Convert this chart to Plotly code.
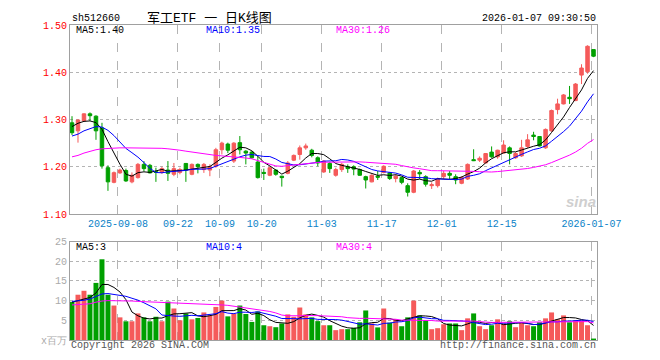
import plotly.graph_objects as go

# ---------------- data ----------------
opens = [1.293, 1.276, 1.297, 1.312, 1.307, 1.282, 1.198, 1.167, 1.187, 1.192,
         1.168, 1.177, 1.205, 1.203, 1.190, 1.188, 1.193, 1.184, 1.188, 1.207,
         1.184, 1.205, 1.194, 1.193, 1.201, 1.236, 1.248, 1.212, 1.251, 1.233,
         1.231, 1.210, 1.188, 1.182, 1.193, 1.180, 1.186, 1.214, 1.226, 1.240,
         1.235, 1.219, 1.189, 1.207, 1.182, 1.194, 1.200, 1.200, 1.194, 1.179,
         1.168, 1.180, 1.188, 1.187, 1.175, 1.177, 1.160, 1.146, 1.188, 1.179,
         1.160, 1.160, 1.179, 1.186, 1.179, 1.165, 1.174, 1.215, 1.214, 1.208,
         1.231, 1.221, 1.229, 1.240, 1.219, 1.223, 1.243, 1.267, 1.264, 1.240,
         1.276, 1.321, 1.333, 1.347, 1.340, 1.394, 1.401, 1.448]
highs = [1.307, 1.300, 1.313, 1.315, 1.309, 1.293, 1.203, 1.190, 1.196, 1.196,
         1.188, 1.208, 1.212, 1.206, 1.198, 1.200, 1.212, 1.208, 1.198, 1.208,
         1.207, 1.207, 1.208, 1.205, 1.240, 1.253, 1.251, 1.252, 1.265, 1.235,
         1.233, 1.222, 1.196, 1.200, 1.194, 1.181, 1.212, 1.226, 1.245, 1.249,
         1.238, 1.222, 1.214, 1.210, 1.198, 1.208, 1.205, 1.203, 1.196, 1.181,
         1.184, 1.191, 1.203, 1.189, 1.184, 1.179, 1.165, 1.193, 1.193, 1.182,
         1.167, 1.177, 1.191, 1.191, 1.184, 1.180, 1.207, 1.237, 1.222, 1.229,
         1.243, 1.236, 1.256, 1.243, 1.231, 1.257, 1.269, 1.274, 1.265, 1.281,
         1.321, 1.344, 1.354, 1.371, 1.377, 1.417, 1.457, 1.448]
lows = [1.267, 1.251, 1.296, 1.297, 1.257, 1.196, 1.149, 1.165, 1.185, 1.168,
        1.165, 1.175, 1.190, 1.186, 1.168, 1.185, 1.170, 1.180, 1.184, 1.168,
        1.182, 1.186, 1.187, 1.180, 1.198, 1.226, 1.229, 1.208, 1.226, 1.205,
        1.217, 1.175, 1.172, 1.180, 1.181, 1.158, 1.184, 1.212, 1.215, 1.236,
        1.220, 1.201, 1.187, 1.187, 1.179, 1.189, 1.187, 1.182, 1.181, 1.154,
        1.167, 1.172, 1.186, 1.172, 1.167, 1.163, 1.137, 1.144, 1.174, 1.158,
        1.153, 1.156, 1.174, 1.174, 1.163, 1.163, 1.172, 1.212, 1.210, 1.207,
        1.219, 1.217, 1.228, 1.205, 1.217, 1.221, 1.240, 1.256, 1.243, 1.238,
        1.274, 1.311, 1.332, 1.333, 1.339, 1.375, 1.397, 1.432]
closes = [1.272, 1.299, 1.312, 1.308, 1.276, 1.202, 1.168, 1.1875, 1.193, 1.170,
          1.182, 1.205, 1.196, 1.187, 1.188, 1.196, 1.186, 1.196, 1.194, 1.193,
          1.205, 1.200, 1.205, 1.200, 1.236, 1.250, 1.235, 1.250, 1.236, 1.229,
          1.219, 1.177, 1.186, 1.198, 1.184, 1.177, 1.208, 1.224, 1.240, 1.244,
          1.224, 1.208, 1.212, 1.196, 1.194, 1.205, 1.196, 1.195, 1.182, 1.172,
          1.182, 1.178, 1.201, 1.175, 1.180, 1.167, 1.146, 1.191, 1.185, 1.163,
          1.162, 1.174, 1.186, 1.182, 1.172, 1.177, 1.205, 1.213, 1.218, 1.228,
          1.221, 1.235, 1.246, 1.228, 1.228, 1.240, 1.257, 1.264, 1.244, 1.279,
          1.319, 1.333, 1.352, 1.344, 1.375, 1.409, 1.455, 1.434]
volumes = [9.7, 11.5, 12.5, 11.5, 14.5, 20.5, 11.5, 8.75, 5.75, 4.75,
           4.75, 6.75, 5.75, 4.75, 5.9, 4.75, 9.75, 8.0, 5.0, 6.75,
           5.25, 5.6, 7.0, 6.25, 8.4, 10.0, 6.0, 6.7, 8.75, 6.6,
           4.6, 7.25, 3.75, 3.5, 3.25, 4.2, 6.5, 5.9, 8.25, 6.5,
           5.75, 4.8, 3.75, 3.75, 2.5, 2.75, 2.75, 3.1, 4.5, 7.5,
           4.2, 3.2, 8.0, 4.4, 5.25, 3.5, 5.75, 10.0, 6.25, 5.0,
           2.75, 3.0, 4.0, 4.2, 4.2, 2.5, 5.5, 6.75, 3.5, 2.75,
           3.75, 5.25, 4.2, 4.75, 3.25, 4.5, 3.75, 3.5, 4.5, 5.5,
           7.0, 5.25, 6.25, 4.5, 5.0, 5.0, 3.75, 0.25]

# moving-average values at the left edge (window starts before the visible data)
price_ma5_head = [1.285, 1.292, 1.296, 1.297]
price_ma10_head = [1.265, 1.269, 1.276, 1.281, 1.285, 1.284, 1.277, 1.266, 1.252]
price_ma30_head = [1.221, 1.224, 1.229, 1.233, 1.236, 1.238, 1.239, 1.240, 1.240, 1.240,
                   1.240, 1.240, 1.240, 1.240, 1.240, 1.239, 1.238, 1.237, 1.235, 1.233,
                   1.231, 1.229, 1.227, 1.226, 1.224, 1.223, 1.222, 1.222, 1.221]
vol_ma5_head = [9.6, 10.0, 10.4, 10.8]
vol_ma10_head = [9.8, 9.9, 10.1, 10.4, 11.0, 11.7, 11.8, 11.6, 11.3]
vol_ma30_head = [8.9, 8.95, 9.0, 9.2, 9.6, 9.9, 10.0, 10.0, 10.0, 10.0,
                 9.9, 9.8, 9.75, 9.7, 9.6, 9.55, 9.5, 9.45, 9.4, 9.3,
                 9.25, 9.2, 9.1, 9.05, 9.0, 8.9, 8.8, 8.6, 8.4]

tick_idx = [8, 18, 25, 32, 42, 52, 62, 72, 87]
tick_labels = ["2025-09-08", "09-22", "10-09", "10-20", "11-03", "11-17",
               "12-01", "12-15", "2026-01-07"]
price_ticks = [1.10, 1.20, 1.30, 1.40, 1.50]
vol_ticks = [0, 5, 10, 15, 20, 25]
vol_tick_text = ["x百万", "5", "10", "15", "20", "25"]

title_code = "sh512660"
title_name = "军工ETF 一 日K线图"
timestamp = "2026-01-07 09:30:50"
price_ma_labels = ["MA5:1.40", "MA10:1.35", "MA30:1.26"]
vol_ma_labels = ["MA5:3", "MA10:4", "MA30:4"]


def rolling(vals, n, head):
    out = list(head)
    for i in range(len(head), len(vals)):
        out.append(sum(vals[i - n + 1:i + 1]) / n)
    return out


N = len(closes)
xs = list(range(N))
RED = "#f55a5a"
GREEN = "#00a000"
MA_COLORS = ["#000000", "#0000ff", "#ff00ff"]
MONO = "Liberation Mono, DejaVu Sans Mono, monospace"

pm = [rolling(closes, 5, price_ma5_head), rolling(closes, 10, price_ma10_head),
      rolling(closes, 30, price_ma30_head)]
vm = [rolling(volumes, 5, vol_ma5_head), rolling(volumes, 10, vol_ma10_head),
      rolling(volumes, 30, vol_ma30_head)]
vol_colors = [RED if c >= o else GREEN for o, c in zip(opens, closes)]

fig = go.Figure()
fig.add_trace(go.Candlestick(
    x=xs, open=opens, high=highs, low=lows, close=closes,
    increasing=dict(line=dict(color=RED, width=1), fillcolor=RED),
    decreasing=dict(line=dict(color=GREEN, width=1), fillcolor=GREEN),
    whiskerwidth=0, xaxis="x", yaxis="y", showlegend=False))
for vals, col in zip(pm, MA_COLORS):
    fig.add_trace(go.Scatter(x=xs, y=vals, mode="lines", line=dict(color=col, width=1),
                             xaxis="x", yaxis="y", showlegend=False))
fig.add_trace(go.Bar(x=xs, y=volumes, marker=dict(color=vol_colors, line=dict(width=0)),
                     xaxis="x2", yaxis="y2", showlegend=False))
for vals, col in zip(vm, MA_COLORS):
    fig.add_trace(go.Scatter(x=xs, y=vals, mode="lines", line=dict(color=col, width=1),
                             xaxis="x2", yaxis="y2", showlegend=False))

# layout in window pixels (page body adds an 8px offset)
OX, OY = 8, 8
W, H = 660 - OX, 360 - OY
PL, PR, PT, PB = 70, 597, 20, 340          # plot area edges in window pixels
L, T = PL - OX, PT - OY
R, B = 660 - PR, 360 - PB
PW, PH = PR - PL, PB - PT


def px(x):
    return (x - PL) / PW


def py(y):
    return (PB - y) / PH


xr = [-0.333, N - 0.42]
grid_x = [i - 0.33 for i in tick_idx]
axis_common = dict(showline=True, mirror=True, linecolor="#a0a0a0", linewidth=1,
                   zeroline=False, ticks="", fixedrange=True)

fig.update_layout(
    width=W, height=H, margin=dict(l=L, r=R, t=T, b=B, pad=0),
    paper_bgcolor="white", plot_bgcolor="white",
    bargap=0.17, boxgap=0.17,
    xaxis=dict(domain=[0, 1], range=xr, tickvals=grid_x, ticktext=tick_labels,
               tickfont=dict(family=MONO, size=10, color="#0a82c8"),
               showgrid=True, gridcolor="#b4b4b4", griddash="dash", gridwidth=1,
               rangeslider=dict(visible=False), anchor="y", **axis_common),
    yaxis=dict(domain=[py(212), 1], range=[1.10, 1.50], tickvals=price_ticks,
               ticktext=["%.2f" % v for v in price_ticks],
               tickfont=dict(family=MONO, size=10, color="#ff0000"),
               showgrid=True, gridcolor="#b4b4b4", griddash="dot", gridwidth=1,
               anchor="x", **axis_common),
    xaxis2=dict(domain=[0, 1], range=xr, tickvals=grid_x, showticklabels=False,
                showgrid=True, gridcolor="#b4b4b4", griddash="dash", gridwidth=1,
                anchor="y2", **axis_common),
    yaxis2=dict(domain=[0, py(240)], range=[0, 25], tickvals=vol_ticks,
                ticktext=vol_tick_text,
                tickfont=dict(family=MONO, size=10, color="#aaaaaa"),
                showgrid=True, gridcolor="#b4b4b4", griddash="dot", gridwidth=1,
                anchor="x2", **axis_common),
)


def note(text, x, y, color="#000000", size=10, xanchor="left", family=MONO, **kw):
    fig.add_annotation(text=text, x=px(x), y=py(y), xref="paper", yref="paper",
                       xanchor=xanchor, yanchor="middle", showarrow=False,
                       font=dict(family=family, size=size, color=color), **kw)


note(title_code, 70, 13)
note(title_name, 209, 13, size=13, xanchor="center",
     family="Liberation Mono, Noto Sans CJK SC, monospace")
note(timestamp, 598, 13, xanchor="right")
for lab, col, x in zip(price_ma_labels, MA_COLORS, [74, 204, 334]):
    note(lab, x, 26, color=col)
for lab, col, x in zip(vol_ma_labels, MA_COLORS, [74, 204, 334]):
    note(lab, x, 246, color=col)
note("Copyright 2026 SINA.COM", 69, 346, color="#555555")
note("http://finance.sina.com.cn", 598, 346, color="#555555", xanchor="right")
note("<b><i>sina</i></b>", 581, 199, color="#cfcfcf", size=15, xanchor="center",
     family="Arial, Liberation Sans, sans-serif")

fig.write_html("out.html")
